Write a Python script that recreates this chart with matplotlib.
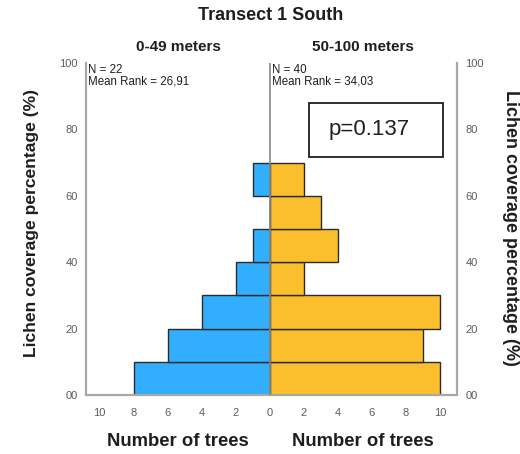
# transect1_south_pyramid.py
import numpy as np
import matplotlib
matplotlib.use("Agg")
import matplotlib.pyplot as plt

plt.rcParams["font.family"] = ["Liberation Sans", "DejaVu Sans"]

# lichen coverage bins (lower edge, %), bin width 10
bin_lower = [0, 10, 20, 30, 40, 50, 60]
bin_width = 10
near_counts = [8, 6, 4, 2, 1, 0, 1]     # 0-49 meters
far_counts = [10, 9, 10, 2, 4, 3, 2]    # 50-100 meters

y_ticks = [0, 20, 40, 60, 80, 100]
y_tick_labels = ["00", "20", "40", "60", "80", "100"]
x_ticks = [-10, -8, -6, -4, -2, 0, 2, 4, 6, 8, 10]
x_tick_labels = ["10", "8", "6", "4", "2", "0", "2", "4", "6", "8", "10"]

near_stats = "N = 22\nMean Rank = 26,91"
far_stats = "N = 40\nMean Rank = 34,03"
p_text = "p=0.137"

W, H = 520, 454
fig = plt.figure(figsize=(W / 100, H / 100), dpi=100)
ax = fig.add_axes([86 / W, 1 - 395 / H, (457 - 86) / W, (395 - 63) / H])

blue = "#31AFFE"
orange = "#FBBE2C"
edge = "#2b2b2b"
grey = "#a8a8a8"
dark = "#1e1e1e"

ax.barh(bin_lower, [-c for c in near_counts], height=bin_width, align="edge",
        color=blue, edgecolor=edge, linewidth=1.0, zorder=2)
ax.barh(bin_lower, far_counts, height=bin_width, align="edge",
        color=orange, edgecolor=edge, linewidth=1.0, zorder=2)

ax.set_xlim(-10.8, 11.0)
ax.set_ylim(0, 100)
ax.axvline(0, color="#888888", linewidth=1.2, zorder=3)

for s in ["left", "right", "bottom"]:
    ax.spines[s].set_color(grey)
    ax.spines[s].set_linewidth(1.6)
ax.spines["top"].set_visible(False)

ax.set_yticks(y_ticks)
ax.set_yticklabels(y_tick_labels)
ax.set_xticks(x_ticks)
ax.set_xticklabels(x_tick_labels)
ax.tick_params(axis="both", length=0, labelsize=8, labelcolor="#5c5c5c")
ax.tick_params(axis="y", labelleft=True, labelright=True, pad=6)
ax.tick_params(axis="x", pad=9)

# titles
fig.text(271 / W, 1 - 16 / H, "Transect 1 South", ha="center", va="center",
         fontsize=13, fontweight="bold", color=dark)
fig.text(178 / W, 1 - 47 / H, "0-49 meters", ha="center", va="center",
         fontsize=11, fontweight="bold", color=dark)
fig.text(363 / W, 1 - 47 / H, "50-100 meters", ha="center", va="center",
         fontsize=11, fontweight="bold", color=dark)

# group stats
fig.text(88 / W, 1 - 64 / H, near_stats, ha="left", va="top", fontsize=8.3,
         color=dark, linespacing=0.9)
fig.text(272 / W, 1 - 64 / H, far_stats, ha="left", va="top", fontsize=8.3,
         color=dark, linespacing=0.9)

# axis titles
fig.text(32 / W, 1 - 223 / H, "Lichen coverage percentage (%)", rotation=90,
         ha="center", va="center", fontsize=12.6, fontweight="bold", color=dark)
fig.text(511 / W, 1 - 228 / H, "Lichen coverage percentage (%)", rotation=-90,
         ha="center", va="center", fontsize=13, fontweight="bold", color=dark)
fig.text(178 / W, 1 - 442 / H, "Number of trees", ha="center", va="center",
         fontsize=13.3, fontweight="bold", color=dark)
fig.text(363 / W, 1 - 442 / H, "Number of trees", ha="center", va="center",
         fontsize=13.3, fontweight="bold", color=dark)

# p-value box
fig.patches.append(plt.Rectangle((309 / W, 1 - 157 / H), (443 - 309) / W, (157 - 103) / H,
                                 transform=fig.transFigure, fill=False,
                                 edgecolor=dark, linewidth=1.3))
fig.text(369 / W, 1 - 129 / H, p_text, ha="center", va="center", fontsize=16,
         color=dark)

fig.savefig("out.png", dpi=100)
